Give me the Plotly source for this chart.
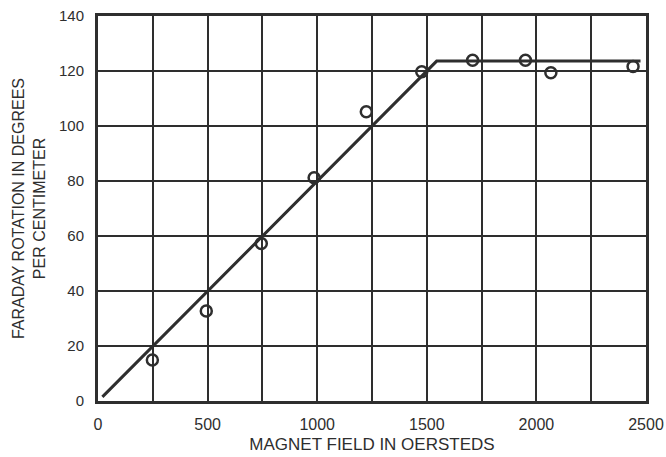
import plotly.graph_objects as go

# Measured data points (open circles)
field_oe = [248, 494, 745, 986, 1224, 1477, 1709, 1950, 2066, 2441]
rotation_deg = [14.9, 32.7, 57.3, 81.2, 105.2, 119.7, 123.9, 123.9, 119.4, 121.6]

# Fitted line (rise then plateau)
fit_x = [20, 1545, 2475]
fit_y = [1.5, 123.6, 123.6]

x_ticks = [0, 500, 1000, 1500, 2000, 2500]
x_minor = [250, 750, 1250, 1750, 2250]
y_ticks = [0, 20, 40, 60, 80, 100, 120, 140]

ink = "#2e2e2e"

fig = go.Figure()
fig.add_trace(go.Scatter(x=fit_x, y=fit_y, mode="lines",
                         line=dict(color=ink, width=3), showlegend=False))
fig.add_trace(go.Scatter(x=field_oe, y=rotation_deg, mode="markers",
                         marker=dict(symbol="circle-open", size=11, color=ink,
                                     line=dict(width=2.5, color=ink)),
                         showlegend=False))

fig.update_layout(
    width=666, height=457,
    margin=dict(l=98, r=20, t=16, b=56),
    paper_bgcolor="white", plot_bgcolor="white",
    font=dict(family="Liberation Sans, Arial, sans-serif", size=15, color=ink),
)
fig.update_xaxes(range=[0, 2500], tickmode="array", tickvals=x_ticks,
                 ticktext=[str(v) for v in x_ticks],
                 tickfont=dict(size=16), automargin=False,
                 showgrid=True, gridcolor=ink, gridwidth=2,
                 minor=dict(tickvals=x_minor, showgrid=True,
                            gridcolor=ink, gridwidth=2, ticks=""),
                 showline=True, linecolor=ink, linewidth=3, mirror=True,
                 ticks="", zeroline=False, ticklabelstandoff=7,
                 title=dict(text="MAGNET FIELD IN OERSTEDS", standoff=6,
                            font=dict(size=17, color=ink)))
fig.update_yaxes(range=[0, 140], tickvals=y_ticks,
                 tickfont=dict(size=15), automargin=False,
                 showgrid=True, gridcolor=ink, gridwidth=2,
                 showline=True, linecolor=ink, linewidth=3, mirror=True,
                 ticks="", zeroline=False, ticklabelstandoff=8,
                 title=dict(text="FARADAY ROTATION IN DEGREES<br>PER CENTIMETER",
                            standoff=10, font=dict(size=16, color=ink)))

fig.write_html("out.html")
